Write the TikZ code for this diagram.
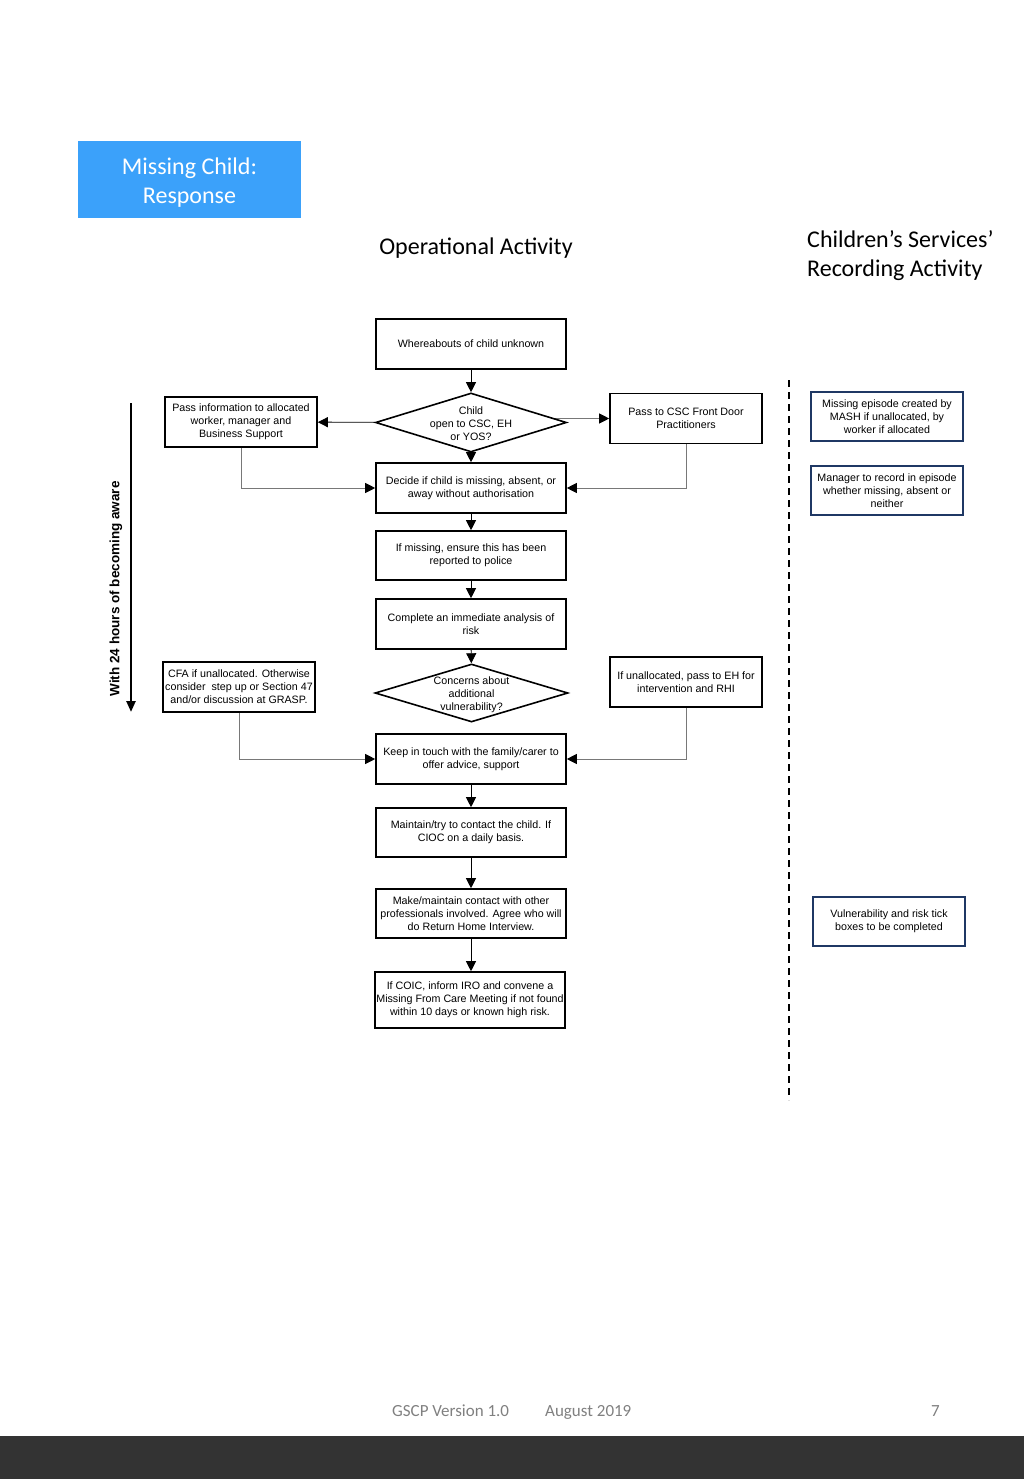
\documentclass[tikz,border=0pt]{standalone}
\usepackage{fontspec}
\setmainfont{Liberation Sans}
\newfontfamily\calib{Carlito}
\newfontfamily\arialf{Liberation Sans}
\usetikzlibrary{arrows.meta,shapes.geometric,backgrounds}
\definecolor{hdrblue}{RGB}{59,161,250}
\definecolor{navy}{RGB}{31,56,100}
\definecolor{linegray}{RGB}{120,120,120}
\definecolor{footgray}{RGB}{128,128,128}
\definecolor{barcol}{RGB}{51,51,51}
\tikzset{
  flowbox/.style={draw=black,line width=1.6pt,fill=white,inner sep=0pt,minimum width=190pt,minimum height=50pt,align=center,font=\arialf\fontsize{10.7}{13}\selectfont},
  sidebox/.style={flowbox,minimum width=152pt},
  recbox/.style={flowbox,draw=navy,minimum width=152pt,minimum height=49pt},
  decision/.style={diamond,draw=black,line width=1.6pt,fill=white,inner sep=0pt,minimum width=191pt,minimum height=59pt},
  dtext/.style={align=center,inner sep=0pt,font=\arialf\fontsize{10.7}{13}\selectfont},
  mainarr/.style={draw=black,line width=0.9pt,-{Triangle[length=10pt,width=10pt,color=black]}},
  sidearr/.style={draw=linegray,line width=0.9pt,-{Triangle[length=10pt,width=10pt,color=black]}},
  heading/.style={font=\calib\fontsize{24}{29}\selectfont,inner sep=0pt},
  foot/.style={font=\calib\fontsize{17}{20}\selectfont,text=footgray,inner sep=0pt,anchor=base west}
}
\begin{document}
\begin{tikzpicture}[x=1pt,y=-1pt]
\useasboundingbox (0,0) rectangle (1024,1479);
% bottom bar
\fill[barcol] (0,1436) rectangle (1024,1479);
% header box
\node[fill=hdrblue,minimum width=223pt,minimum height=77pt,inner sep=0pt] (hdr) at (189.5,179.5) {};
\node[text=white,align=center,inner sep=0pt,font=\calib\fontsize{24}{29}\selectfont] (hdrt) at (189.5,182.5) {Missing Child:\\Response};
\node[heading] (op) at (476,248) {Operational Activity};
\node[heading,anchor=west,align=left] (rec) at (807,255.5) {Children’s Services’\\Recording Activity};

% main column
\node[flowbox] (a) at (471,344) {Whereabouts of child unknown};
\node[decision] (d1) at (471,422.5) {};
\node[dtext] (d1t) at (471,424) {Child\\open to CSC, EH\\or YOS?};
\node[sidebox] (lb1) at (241,422) {Pass information to allocated\\worker, manager and\\Business Support};
\node[sidebox] (rb1) at (686,418.5) {Pass to CSC Front Door\\Practitioners};
\node[flowbox] (b) at (471,488) {Decide if child is missing, absent, or\\away without authorisation};
\node[flowbox,minimum height=49pt] (c) at (471,555.5) {If missing, ensure this has been\\reported to police};
\node[flowbox] (e) at (471,624) {Complete an immediate analysis of\\risk};
\node[decision,minimum height=58pt,minimum width=193pt] (d2) at (471.5,693) {};
\node[dtext] (d2t) at (471.5,695) {Concerns about\\additional\\vulnerability?};
\node[sidebox] (lb2) at (239,687) {CFA if unallocated. Otherwise\\consider~ step up or Section 47\\and/or discussion at GRASP.};
\node[sidebox] (rb2) at (686,682) {If unallocated, pass to EH for\\intervention and RHI};
\node[flowbox] (f) at (471,759) {Keep in touch with the family/carer to\\offer advice, support};
\node[flowbox,minimum height=49pt] (g) at (471,832.5) {Maintain/try to contact the child. If\\CIOC on a daily basis.};
\node[flowbox,minimum height=49pt] (h) at (471,913.5) {Make/maintain contact with other\\professionals involved. Agree who will\\do Return Home Interview.};
\node[flowbox,minimum height=56pt] (k) at (470,1000) {If COIC, inform IRO and convene a\\Missing From Care Meeting if not found\\within 10 days or known high risk.};

% recording column
\node[recbox] (r1) at (887,416.5) {Missing episode created by\\MASH if unallocated, by\\worker if allocated};
\node[recbox] (r2) at (887,490.5) {Manager to record in episode\\whether missing, absent or\\neither};
\node[recbox] (r3) at (889,921.5) {Vulnerability and risk tick\\boxes to be completed};

% time arrow and divider
\coordinate (t0) at (131,403);
\coordinate (t1) at (131,712);
\draw[line width=2.4pt,-{Triangle[length=11pt,width=9pt]}] (t0) -- (t1);
\node[rotate=90,inner sep=0pt,font=\arialf\bfseries\fontsize{13.5}{16}\selectfont] (tl) at (116,589) {With 24 hours of becoming aware};
\coordinate (s0) at (789,380);
\coordinate (s1) at (789,1100);
\draw[line width=1.8pt,dash pattern=on 7pt off 5pt] (s0) -- (s1);

% connectors
\begin{scope}[on background layer]
\draw[mainarr] (a) -- (d1);
\draw[mainarr] (d1) -- (lb1);
\draw[sidearr] (d1.center |- rb1.west) -- (rb1.west);
\draw[mainarr] (d1) -- (b);
\draw[sidearr] (lb1.south) |- (b.west);
\draw[sidearr] (rb1.south) |- (b.east);
\draw[mainarr] (b) -- (c);
\draw[mainarr] (c) -- (e);
\draw[mainarr] (e) -- (d2);
\draw[sidearr] (lb2.south) |- (f.west);
\draw[sidearr] (rb2.south) |- (f.east);
\draw[mainarr] (f) -- (g);
\draw[mainarr] (g) -- (h);
\draw[mainarr] (h.south) -- (h.south |- k.north);
\end{scope}

% footer
\node[foot] (f1) at (392,1416) {GSCP Version 1.0};
\node[foot] (f2) at (545,1416) {August 2019};
\node[foot] (f3) at (931,1416) {7};
\end{tikzpicture}
\end{document}
